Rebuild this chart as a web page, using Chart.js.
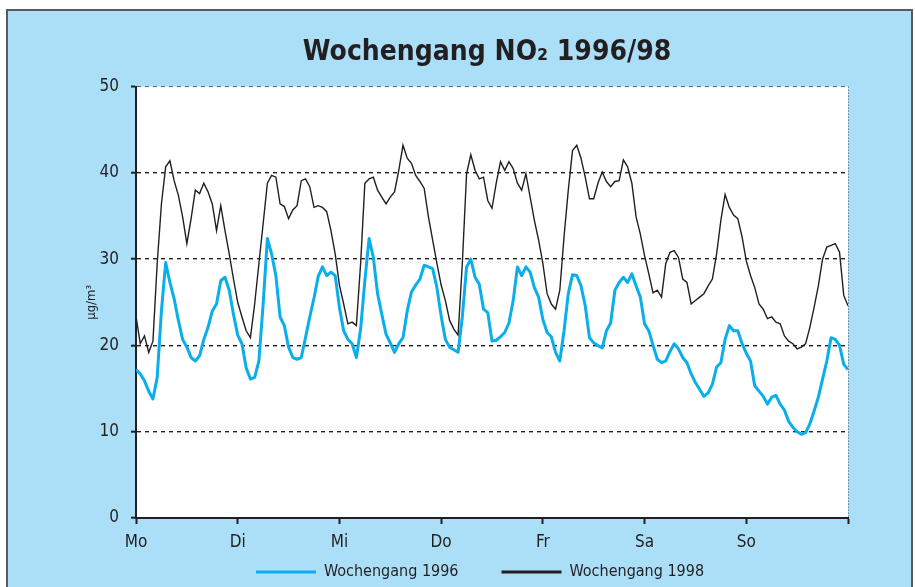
<!DOCTYPE html>
<html>
<head>
<meta charset="utf-8">
<script src="https://cdn.jsdelivr.net/npm/chart.js@4/dist/chart.umd.min.js"></script>
<style>
  body { margin: 0; background: #fff; }
  #frame { position: absolute; left: 6px; top: 9px; width: 903px; height: 600px;
           background: #abdff8; border: 2px solid #5a5a5a; }
  #wrap { position: absolute; left: 0; top: 0; width: 915px; height: 587px; }
</style>
</head>
<body>
<div id="frame"></div>
<div id="wrap"><canvas id="mycanvas"></canvas></div>
<script>
// hourly means over one week, Mo 0:00 .. So 24:00
var dayLabels = ['Mo', 'Di', 'Mi', 'Do', 'Fr', 'Sa', 'So'];

var no2_1996 = [
  17.2, 16.7, 15.9, 14.7, 13.8, 16.3, 24.0, 29.6, 27.3, 25.4, 22.9, 20.7, 19.8, 18.6, 18.2, 18.8, 20.7, 22.1, 24.0, 24.8, 27.5, 27.9, 26.4, 23.6,
  21.2, 20.2, 17.4, 16.1, 16.3, 18.2, 24.8, 32.4, 30.6, 28.1, 23.3, 22.3, 19.8, 18.6, 18.4, 18.6, 20.9, 23.3, 25.5, 28.0, 29.1, 28.1, 28.5, 28.1,
  24.4, 21.7, 20.7, 20.2, 18.6, 21.9, 27.5, 32.4, 30.2, 26.0, 23.6, 21.3, 20.3, 19.2, 20.2, 20.9, 24.0, 26.2, 27.0, 27.7, 29.3, 29.1, 28.9, 26.7,
  23.4, 20.7, 19.8, 19.5, 19.2, 23.3, 29.1, 30.0, 27.9, 27.1, 24.2, 23.8, 20.5, 20.6, 21.0, 21.5, 22.6, 25.2, 29.1, 28.1, 29.1, 28.5, 26.7, 25.6,
  23.0, 21.5, 21.0, 19.2, 18.2, 21.7, 26.0, 28.2, 28.1, 26.9, 24.6, 20.9, 20.3, 20.0, 19.7, 21.7, 22.6, 26.4, 27.3, 27.9, 27.3, 28.3, 26.9, 25.6,
  22.5, 21.7, 20.0, 18.4, 18.0, 18.2, 19.3, 20.2, 19.6, 18.6, 18.0, 16.7, 15.7, 14.9, 14.1, 14.5, 15.5, 17.5, 18.0, 20.7, 22.3, 21.7, 21.7, 20.2,
  19.1, 18.2, 15.3, 14.7, 14.1, 13.2, 14.0, 14.2, 13.2, 12.5, 11.2, 10.5, 10.0, 9.7, 9.9, 10.9, 12.4, 14.0, 16.1, 18.2, 20.9, 20.7, 20.0, 17.8,
  17.2
];

var no2_1998 = [
  23.4, 20.2, 21.1, 19.2, 20.5, 29.5, 36.4, 40.7, 41.4, 39.1, 37.4, 34.9, 31.8, 34.7, 38.0, 37.6, 38.8, 37.8, 36.4, 33.3, 36.2, 33.3, 30.6, 27.7,
  25.0, 23.3, 21.7, 20.9, 24.8, 29.5, 34.1, 38.8, 39.7, 39.5, 36.4, 36.1, 34.7, 35.7, 36.2, 39.1, 39.3, 38.4, 36.0, 36.2, 36.0, 35.5, 33.3, 30.6,
  27.0, 24.8, 22.5, 22.7, 22.3, 29.5, 38.8, 39.3, 39.5, 38.0, 37.2, 36.4, 37.2, 37.8, 40.3, 43.2, 41.7, 41.1, 39.7, 39.0, 38.2, 34.9, 32.2, 29.5,
  27.0, 25.2, 22.9, 21.9, 21.2, 29.5, 39.9, 42.1, 40.3, 39.3, 39.5, 36.8, 35.9, 38.8, 41.3, 40.3, 41.3, 40.5, 38.8, 38.0, 39.9, 37.2, 34.5, 32.2,
  29.5, 26.0, 24.8, 24.2, 26.4, 32.6, 38.0, 42.6, 43.2, 41.7, 39.5, 37.0, 37.0, 38.8, 40.1, 39.0, 38.4, 39.0, 39.1, 41.5, 40.7, 38.8, 34.9, 32.9,
  30.4, 28.3, 26.1, 26.4, 25.6, 29.5, 30.8, 31.0, 30.2, 27.7, 27.3, 24.8, 25.2, 25.6, 26.0, 26.9, 27.7, 30.6, 34.5, 37.5, 36.0, 35.1, 34.7, 32.6,
  29.8, 28.1, 26.7, 24.8, 24.2, 23.1, 23.3, 22.7, 22.5, 21.1, 20.5, 20.2, 19.6, 19.8, 20.2, 22.1, 24.4, 26.9, 30.0, 31.4, 31.6, 31.8, 30.8, 25.8,
  24.6
];

var yTicks = [0, 10, 20, 30, 40, 50];

var FONT = "'Liberation Sans Narrow', 'DejaVu Sans Condensed', 'Arial Narrow', sans-serif";
var INK = '#231f20';

function toPoints(arr) {
  var pts = [];
  for (var i = 0; i < arr.length; i++) pts.push({x: i, y: arr[i]});
  return pts;
}

// white plot area + shift of title/legend boxes
var plotBg = {
  id: 'plotBg',
  beforeDraw: function(chart) {
    var a = chart.chartArea, ctx = chart.ctx;
    ctx.save();
    ctx.fillStyle = '#fff';
    ctx.fillRect(a.left, a.top, a.right - a.left, a.bottom - a.top);
    ctx.restore();
  },
  afterLayout: function(chart) {
    var t = chart.titleBlock;
    if (t) { t.left += 23; t.right += 23; }
    var lg = chart.legend;
    if (lg) {
      lg.left += 16; lg.right += 16;
      lg.top = 521; lg.bottom = 587;
    }
  }
};

var chart = new Chart(document.getElementById('mycanvas'), {
  type: 'line',
  data: {
    datasets: [
      {
        label: 'Wochengang 1996',
        data: toPoints(no2_1996),
        borderColor: '#0aaeea',
        backgroundColor: '#0aaeea',
        borderWidth: 3,
        borderJoinStyle: 'round',
        pointRadius: 0,
        tension: 0
      },
      {
        label: 'Wochengang 1998',
        data: toPoints(no2_1998),
        borderColor: INK,
        backgroundColor: INK,
        borderWidth: 1.4,
        pointRadius: 0,
        tension: 0
      }
    ]
  },
  options: {
    responsive: true,
    maintainAspectRatio: false,
    animation: false,
    layout: { padding: { left: 80, right: 67, top: 0, bottom: 5 } },
    plugins: {
      tooltip: { enabled: false },
      title: {
        display: true,
        text: 'Wochengang NO\u2082 1996/98',
        color: INK,
        font: { family: FONT, size: 28, weight: 'bold' },
        padding: { top: 36, bottom: 17 }
      },
      legend: {
        position: 'bottom',
        maxHeight: 30,
        labels: {
          color: INK,
          font: { family: FONT, size: 16 },
          usePointStyle: true,
          pointStyle: 'line',
          pointStyleWidth: 60,
          padding: 43,
          generateLabels: function(c) {
            var items = Chart.defaults.plugins.legend.labels.generateLabels(c);
            items.forEach(function(it) { it.lineWidth = 3; });
            return items;
          }
        }
      }
    },
    scales: {
      x: {
        type: 'linear',
        min: 0,
        max: 168,
        afterFit: function(scale) { scale.height = 34; },
        ticks: {
          stepSize: 24,
          autoSkip: false,
          maxRotation: 0,
          padding: 8,
          color: INK,
          font: { family: FONT, size: 17 },
          callback: function(v) { return dayLabels[v / 24] || ''; }
        },
        grid: {
          color: function(ctx) { return ctx.tick && ctx.tick.value === 168 ? '#555' : 'rgba(0,0,0,0)'; },
          lineWidth: 1,
          tickLength: 6,
          tickWidth: 2,
          tickColor: INK
        },
        border: { display: true, color: INK, width: 2, dash: [1, 2] }
      },
      y: {
        min: 0,
        max: 50,
        afterFit: function(scale) { scale.width = 56; },
        afterBuildTicks: function(scale) {
          scale.ticks = yTicks.map(function(v) { return {value: v}; });
        },
        ticks: {
          padding: 12,
          color: INK,
          font: { family: FONT, size: 17 }
        },
        title: {
          display: true,
          text: '\u00b5g/m\u00b3',
          color: INK,
          font: { family: FONT, size: 13 },
          padding: { top: 4, bottom: 0 }
        },
        grid: {
          color: function(ctx) {
            if (!ctx.tick) return INK;
            if (ctx.tick.value === 0) return 'rgba(0,0,0,0)';
            if (ctx.tick.value === 50) return '#666';
            return INK;
          },
          lineWidth: function(ctx) { return ctx.tick && ctx.tick.value === 50 ? 1 : 1.4; },
          tickLength: 5,
          tickWidth: 2,
          tickColor: INK
        },
        border: { display: true, color: INK, width: 2, dash: [4, 4] }
      }
    }
  },
  plugins: [plotBg]
});
</script>
</body>
</html>
